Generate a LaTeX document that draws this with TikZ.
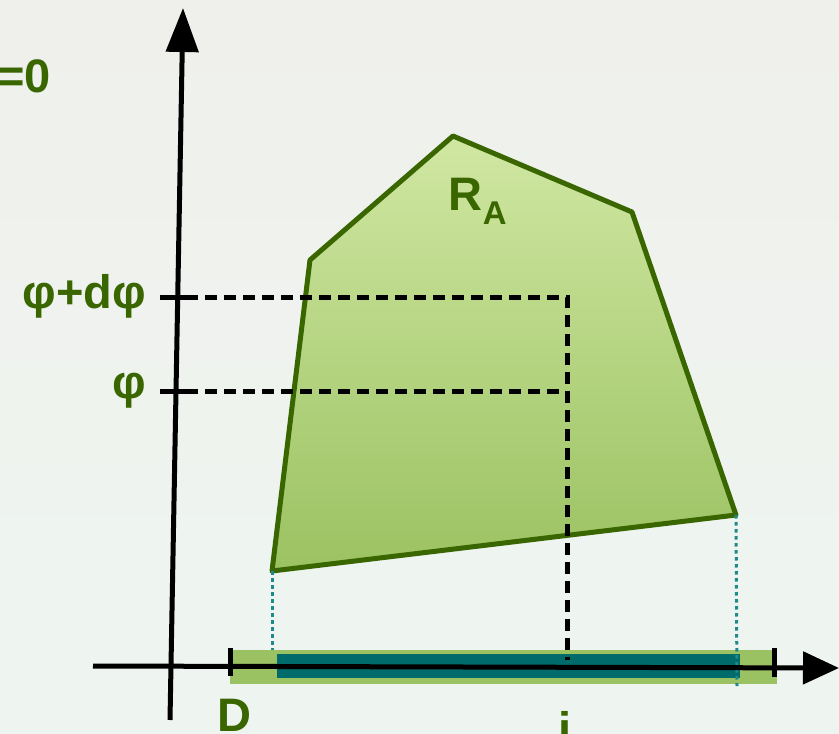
\documentclass[tikz,border=0pt]{standalone}
\usepackage{fontspec}
\setmainfont{Liberation Sans}
\usetikzlibrary{arrows.meta}
\definecolor{bgtop}{HTML}{EFF0EC}
\definecolor{bgbot}{HTML}{EEF5F0}
\definecolor{dkgreen}{HTML}{3A6600}
\definecolor{polytop}{HTML}{D0E7A2}
\definecolor{polybot}{HTML}{9BC262}
\definecolor{bargreen}{HTML}{9AC162}
\definecolor{barteal}{HTML}{006B6B}
\definecolor{dotteal}{HTML}{1F8A8A}
\tikzset{
  lbl/.style={text=dkgreen, font=\bfseries\fontsize{47}{52}\selectfont, inner sep=0pt},
  axisline/.style={line width=5pt, black},
  tickline/.style={line width=5pt, black},
  dashline/.style={line width=5pt, black, dash pattern=on 12pt off 7pt},
  dotline/.style={line width=3pt, dotteal, dash pattern=on 3.5pt off 3.5pt},
}
\begin{document}
\begin{tikzpicture}[x=1pt,y=-1pt]
\useasboundingbox (0,0) rectangle (839,734);
\shade[top color=bgtop, bottom color=bgbot] (0,0) rectangle (839,734);
% coordinates
\coordinate (p1) at (272,571);
\coordinate (p2) at (310,260);
\coordinate (p3) at (453,136);
\coordinate (p4) at (632,212);
\coordinate (p5) at (736,515);
% bars
\fill[bargreen] (230,650) rectangle (777,684);
\fill[barteal] (277,654) rectangle (740,678);
% polygon
\shadedraw[top color=polytop, bottom color=polybot, draw=dkgreen, line width=5pt, line join=round]
  (p1) -- (p2) -- (p3) -- (p4) -- (p5) -- cycle;
% dotted projections
\coordinate (q1) at (272,650);
\coordinate (q5) at (737,686);
\draw[dotline] (p1) -- (q1);
\draw[dotline] (p5) -- (q5);
% axes
\coordinate (yb) at (170,720);
\coordinate (yt) at (183,8);
\coordinate (xl) at (93,666);
\coordinate (xr) at (839,668);
\draw[axisline, -{Triangle[length=44pt,width=32pt]}] (yb) -- (yt);
\draw[axisline, -{Triangle[length=36pt,width=32pt]}] (xl) -- (xr);
% ticks
\coordinate (t1a) at (160,297); \coordinate (t1b) at (198,297);
\coordinate (t2a) at (160,391); \coordinate (t2b) at (198,391);
\draw[tickline] (t1a) -- (t1b);
\draw[tickline] (t2a) -- (t2b);
\coordinate (d1a) at (230,648); \coordinate (d1b) at (230,676);
\coordinate (d2a) at (774,648); \coordinate (d2b) at (774,677);
\draw[tickline] (d1a) -- (d1b);
\draw[tickline] (d2a) -- (d2b);
% dashed lines
\coordinate (h1s) at (186,297); \coordinate (h1e) at (567,297);
\coordinate (h1d) at (567,660);
\coordinate (h2s) at (186,391); \coordinate (h2e) at (562,391);
\draw[dashline] (h1s) -- (h1e) -- (h1d);
\draw[dashline] (h2s) -- (h2e);
% labels
\node[lbl, anchor=base west] (eq) at (-3,92) {=0};
\node[lbl, anchor=east] (phid) at (146,296) {φ+dφ};
\node[lbl, anchor=east] (phi) at (146,391) {φ};
\node[lbl, anchor=base] (ra) at (478,210) {R\textsubscript{A}};
\node[lbl, anchor=base] (dl) at (234,731) {D};
\node[lbl, anchor=base] (il) at (565,745) {i};
\end{tikzpicture}
\end{document}
